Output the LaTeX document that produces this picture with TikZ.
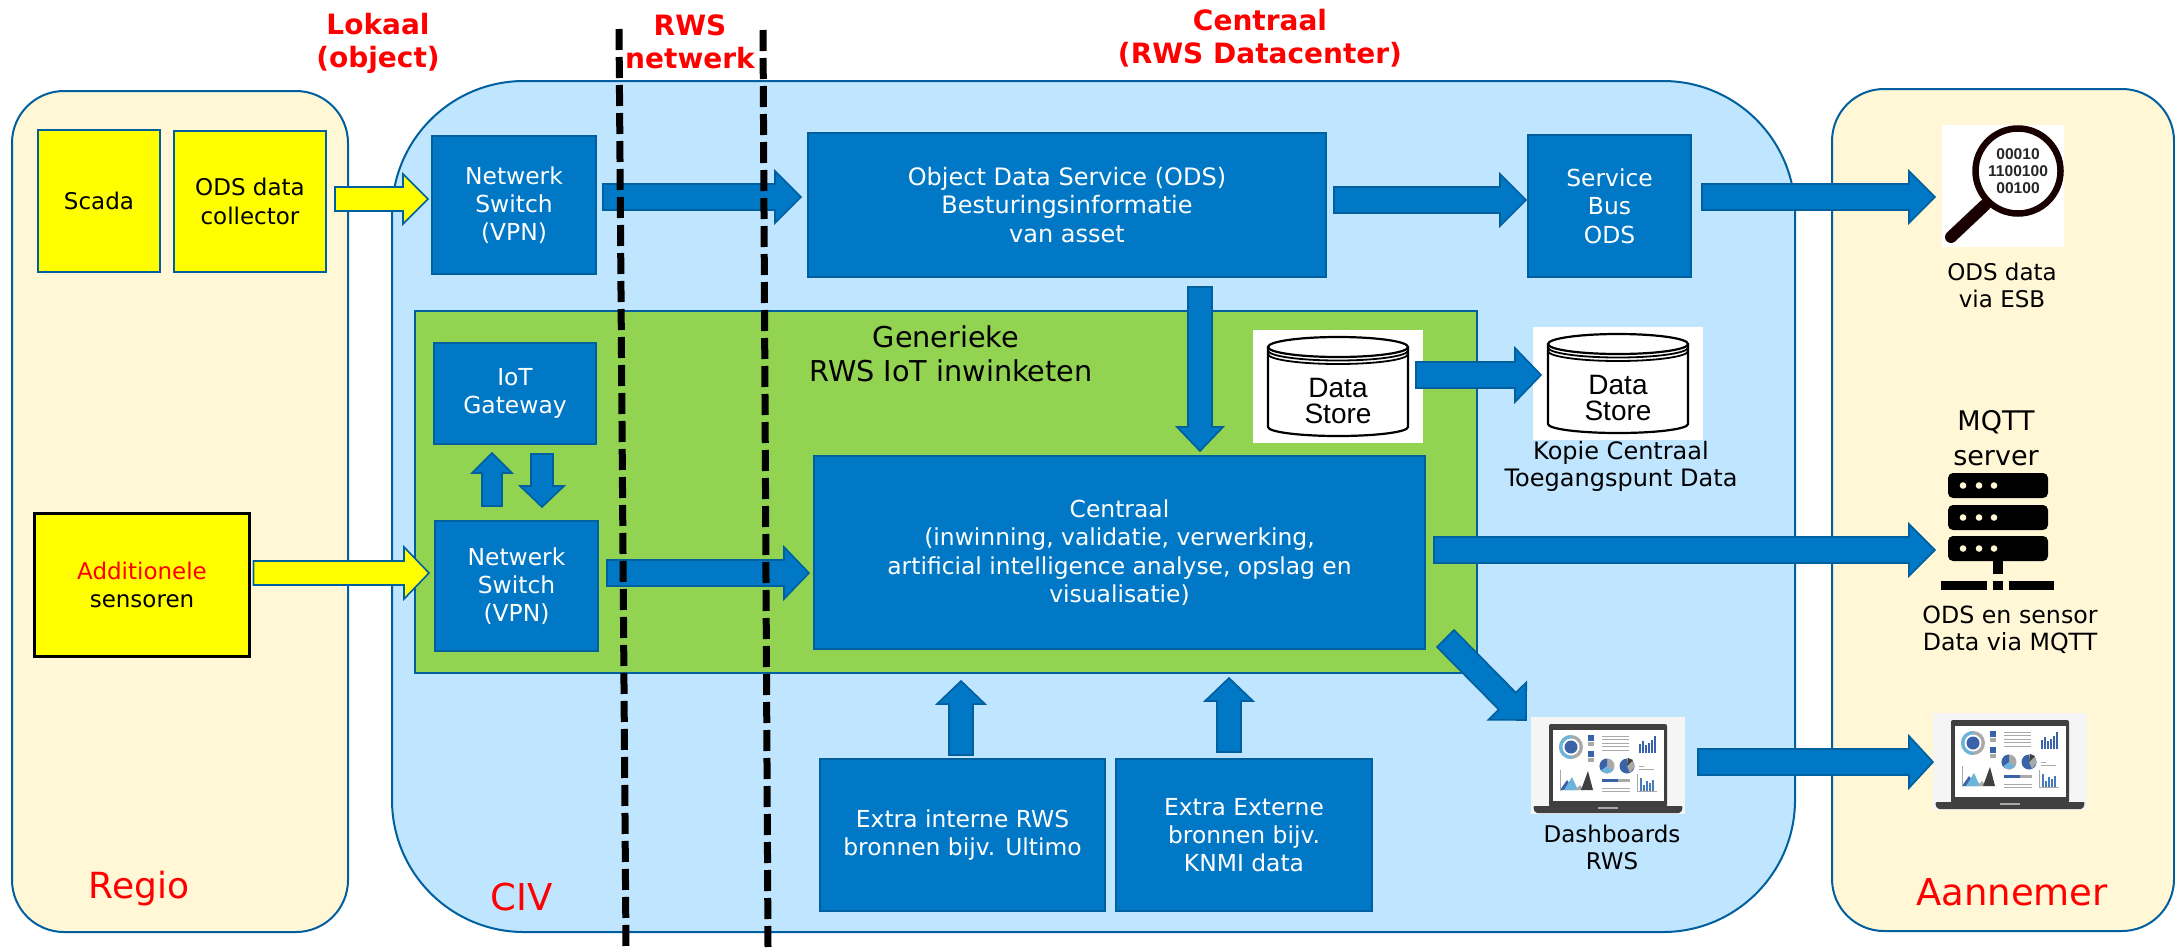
\documentclass[tikz,border=0pt]{standalone}
\usepackage{fontspec}
\setmainfont{DejaVu Sans}
\newfontfamily\arialfont{Liberation Sans}
\usetikzlibrary{calc}
\definecolor{edgeblue}{HTML}{005F9E}
\definecolor{boxblue}{HTML}{0078C6}
\definecolor{civblue}{HTML}{BFE5FF}
\definecolor{cream}{HTML}{FFF7D6}
\definecolor{leaf}{HTML}{92D351}
\definecolor{lapgrey}{HTML}{404040}
\definecolor{lapblue}{HTML}{3A62A8}
\definecolor{lapsky}{HTML}{6CB4DC}
\definecolor{lapmid}{HTML}{A9A9A9}
\definecolor{pureyellow}{RGB}{255,255,0}
\definecolor{purered}{RGB}{255,0,0}
\newcommand\fsz[1]{\fontsize{#1}{#1}\selectfont}
\newcommand\txt[2]{\fontsize{#1}{#2}\selectfont}
\tikzset{
  x=1pt,y=-1pt,
  region/.style={draw=edgeblue,line width=2pt,fill=#1,inner sep=0pt,outer sep=0pt},
  tile/.style={draw=edgeblue,line width=2pt,inner sep=0pt,outer sep=0pt,align=center},
  bluebox/.style={tile,fill=boxblue,text=white,font=\txt{23.4}{28.3},execute at begin node={\rule{0pt}{21.5pt}}},
  yellowbox/.style={tile,fill=pureyellow,text=black,font=\txt{23}{28.5}},
  bluearrow/.style={draw=edgeblue,fill=boxblue,line width=1.6pt,line join=miter},
  yellowarrow/.style={draw=edgeblue,fill=pureyellow,line width=1.6pt,line join=miter},
  caption/.style={inner sep=0pt,outer sep=0pt,align=center,text=black,font=\txt{23}{27}},
  heading/.style={inner sep=0pt,outer sep=0pt,align=center,text=purered,font=\txt{28}{33}\bfseries},
  zone/.style={inner sep=0pt,outer sep=0pt,text=purered,font=\fsz{37}},
  iconbox/.style={inner sep=0pt,outer sep=0pt,fill=#1},
  barrier/.style={draw=black,line width=7pt,dash pattern=on 21pt off 7pt},
}
% \blockarrow[style]{(tail)}{(tip)}{shaft half}{head half}{head length}
\newcommand\blockarrow[6][bluearrow]{%
  \draw[#1] let \p1=#2,\p2=#3,\n1={veclen(\x2-\x1,\y2-\y1)},
      \n2={(\x2-\x1)/\n1},\n3={(\y2-\y1)/\n1} in
    ({\x1-\n3*#4},{\y1+\n2*#4})
    -- ({\x2-\n2*#6-\n3*#4},{\y2-\n3*#6+\n2*#4})
    -- ({\x2-\n2*#6-\n3*#5},{\y2-\n3*#6+\n2*#5})
    -- (\x2,\y2)
    -- ({\x2-\n2*#6+\n3*#5},{\y2-\n3*#6-\n2*#5})
    -- ({\x2-\n2*#6+\n3*#4},{\y2-\n3*#6-\n2*#4})
    -- ({\x1+\n3*#4},{\y1-\n2*#4})
    -- cycle;}
\newcommand\storeicon[1]{%
  \begin{scope}[shift={(#1.north west)},line width=2.2pt,draw=black]
    \draw (85,17) ellipse [x radius=70,y radius=10];
    \draw[line width=1.8pt] (15,20.5) arc[start angle=180,end angle=0,x radius=70,y radius=10];
    \draw[line width=1.8pt] (15,24) arc[start angle=180,end angle=0,x radius=70,y radius=10];
    \draw (15,17) -- (15,97) arc[start angle=180,end angle=0,x radius=70,y radius=9] -- (155,17);
  \end{scope}}
\newcommand\laptopicon[1]{%
  \begin{scope}[shift={(#1.north west)}]
    \fill[lapgrey,rounded corners=2pt] (18,7) rectangle (136,90);
    \fill[white] (22,13) rectangle (133,84);
    \fill[lapgrey,rounded corners=2pt] (2,89) -- (152,89) -- (150,96) -- (4,96) -- cycle;
    \fill[lapmid] (67,90) rectangle (87,92);
    \fill[lapmid] (40,30) circle (12);
    \fill[lapsky] (40,30) -- (40,18) arc[start angle=-90,end angle=-270,x radius=12,y radius=12] -- cycle;
    \fill[white] (40,30) circle (8.5);
    \fill[lapblue] (40,30) circle (6.5);
    \fill[lapblue] (57,18) rectangle (63,24);
    \fill[lapmid] (57,25) rectangle (63,29);
    \fill[lapblue] (57,34) rectangle (63,40);
    \fill[lapmid] (57,41) rectangle (63,45);
    \foreach \ly in {19,22.5,26,29.5,33}
      \draw[lapmid,line width=1pt] (71,\ly) -- (98,\ly);
    \foreach \bx/\bh in {108/9,111/12,114/8,117/10,120/13,123/17}
      \fill[lapblue] (\bx,36) rectangle (\bx+1.8,36-\bh);
    \fill[lapmid] (76,49) circle (7.5);
    \fill[lapblue] (76,49) -- (76,41.5) arc[start angle=-90,end angle=-230,x radius=7.5,y radius=7.5] -- cycle;
    \fill[lapsky] (76,49) -- (70,53.5) -- (76,56.5) -- (82,53.5) -- cycle;
    \fill[lapblue] (96,49) circle (7.5);
    \fill[lapmid] (96,49) -- (96,41.5) -- (103,46) -- (103.5,50) -- (99,56) -- cycle;
    \fill[lapgrey] (96,49) -- (97,41) -- (102,43) -- cycle;
    \draw[lapmid,line width=1pt] (108,49) -- (113,49) (108,52.5) -- (123,52.5);
    \fill[lapblue] (29,73) -- (36,63) -- (41,70) -- (44,73) -- cycle;
    \fill[lapsky] (33,73) -- (41,60) -- (47,73) -- cycle;
    \fill[lapmid] (44,73) -- (49,68) -- (53,73) -- cycle;
    \fill[lapgrey] (50,73) -- (57,54) -- (62,73) -- cycle;
    \fill[lapmid] (71,62) rectangle (99,65);
    \fill[lapblue] (71,62) rectangle (87,65);
    \draw[lapmid,line width=1pt] (71,71) -- (99,71) (71,74) -- (99,74);
    \draw[lapmid,line width=.6pt] (106,57) -- (106,74) -- (126,74);
    \foreach \bx/\bh in {109/13,112/6,115/10,118/8,121/11}
      \fill[lapblue!70!lapsky] (\bx,73.5) rectangle (\bx+1.6,73.5-\bh);
    \draw[lapmid,line width=.6pt] (29,53) -- (29,74);
  \end{scope}}
\begin{document}
\begin{tikzpicture}
\useasboundingbox (0,0) rectangle (2175,948);
\fill[white] (0,0) rectangle (2175,948);
% regions
\node[region=cream,rounded corners=52pt,minimum width=336pt,minimum height=841pt] (regio) at (180,511.5) {};
\node[region=civblue,rounded corners=132pt,minimum width=1403pt,minimum height=851pt] (civ) at (1093.5,506.5) {};
\node[region=cream,rounded corners=52pt,minimum width=342pt,minimum height=842pt] (aann) at (2003,510) {};
\node[region=leaf,rounded corners=0pt,minimum width=1062pt,minimum height=362pt] (green) at (945.5,492) {};
% zone labels
\node[zone,font=\fsz{36}] (lregio) at (139,889) {Regio};
\node[zone] (lciv) at (522,897) {CIV};
\node[zone] (laann) at (2012,892) {Aannemer};
\node[heading] (hlok) at (378,43) {Lokaal\\(object)};
\node[heading] (hrws) at (690,42) {RWS\\netwerk};
\node[heading] (hcen) at (1260,38.5) {Centraal\\(RWS Datacenter)};
\node[inner sep=0pt,align=center,font=\txt{28.7}{34.5}] (lgreen) at (951,354) {Generieke\hspace*{10pt}\\RWS IoT inwinketen};
% yellow boxes
\node[yellowbox,minimum width=122pt,minimum height=142pt] (scada) at (99,201) {Scada};
\node[yellowbox,minimum width=152pt,minimum height=141pt] (coll) at (250,201.5) {ODS data\\collector};
\node[yellowbox,draw=black,line width=2.6pt,minimum width=215pt,minimum height=143pt,font=\txt{23}{27.5}] (addi) at (142,585) {\textcolor{purered}{Additionele}\\sensoren};
% blue boxes
\node[bluebox,minimum width=164pt,minimum height=138pt] (sw1) at (514,205) {Netwerk\\Switch\\(VPN)};
\node[bluebox,font=\txt{24}{28.3},minimum width=518pt,minimum height=144pt] (ods) at (1067,205) {Object Data Service (ODS)\\Besturingsinformatie\\van asset};
\node[bluebox,minimum width=163pt,minimum height=142pt] (bus) at (1609.5,206) {Service\\Bus\\ODS};
\node[bluebox,minimum width=162pt,minimum height=101pt] (iot) at (515,393.5) {IoT\\Gateway};
\node[bluebox,minimum width=163pt,minimum height=130pt] (sw2) at (516.5,586) {Netwerk\\Switch\\(VPN)};
\node[bluebox,minimum width=611pt,minimum height=193pt] (centr) at (1119.5,552.5) {Centraal\\(inwinning, validatie, verwerking,\\artificial intelligence analyse, opslag en\\visualisatie)};
\node[bluebox,minimum width=285pt,minimum height=152pt] (ext1) at (962.5,835) {Extra interne RWS\\bronnen bijv. Ultimo};
\node[bluebox,minimum width=256pt,minimum height=152pt] (ext2) at (1244,835) {Extra Externe\\bronnen bijv.\\KNMI data};
% data stores
\node[iconbox=white,minimum width=170pt,minimum height=113pt] (store1) at (1338,386.5) {};
\node[iconbox=white,minimum width=170pt,minimum height=113pt] (store2) at (1618,383.5) {};
\storeicon{store1}
\storeicon{store2}
\node[inner sep=0pt,align=center,font=\arialfont\txt{28}{26}] (store1t) at (1338,401) {Data\\Store};
\node[inner sep=0pt,align=center,font=\arialfont\txt{28}{26}] (store2t) at (1618,398) {Data\\Store};
\node[caption,font=\txt{24}{27}] (capstore) at (1621,466.5) {Kopie Centraal\\Toegangspunt Data};
% magnifier
\node[iconbox=white,minimum width=122pt,minimum height=122pt] (mag) at (2003,186) {};
\begin{scope}[shift={(mag.north west)}]
  \draw[black!90!purered,line width=12pt,line cap=round] (43,80) -- (9,112);
  \draw[black!90!purered,line width=6.5pt,fill=white] (76,46) circle (42.5);
\end{scope}
\node[inner sep=0pt,align=center,text=black!85,font=\arialfont\bfseries\txt{15.6}{17}] (magt) at (2018,171) {00010\\1100100\\00100};
\node[caption] (capmag) at (2002,285) {ODS data\\via ESB};
% server
\node[caption,font=\txt{27}{35}] (capmqtt) at (1996,438) {MQTT\\server};
\node[inner sep=0pt,outer sep=0pt,minimum width=113pt,minimum height=117pt] (srv) at (1997.5,531.5) {};
\begin{scope}[shift={(srv.north west)}]
  \foreach \ry in {0,32,63}{
    \fill[black,rounded corners=5pt] (7,\ry) rectangle (107,\ry+25);
    \foreach \dx in {22,38,53} \fill[cream] (\dx,\ry+12.5) circle (3.3);
  }
  \fill[black] (52,88) rectangle (62,101);
  \fill[black] (0,108) rectangle (46,117);
  \fill[black] (52,108) rectangle (62,117);
  \fill[black] (68,108) rectangle (113,117);
\end{scope}
\node[caption,font=\txt{23.7}{27}] (capsrv) at (2010,629.5) {ODS en sensor\\Data via MQTT};
% laptops
\node[iconbox={black!4},minimum width=154pt,minimum height=97pt] (lap1) at (1608,765.5) {};
\node[iconbox={black!4},minimum width=154pt,minimum height=97pt] (lap2) at (2010,761.5) {};
\laptopicon{lap1}
\laptopicon{lap2}
\node[caption] (caplap) at (1612,847.5) {Dashboards\\RWS};
% connectors
\blockarrow[yellowarrow]{($(coll.east)+(9,-2.5)$)}{($(sw1.west)+(-4,-6)$)}{12}{25}{25}
\blockarrow[yellowarrow]{($(addi.east)+(4,-12)$)}{($(sw2.west)+(-6,-13)$)}{12}{26}{25}
\blockarrow{($(sw1.east)+(7,-8)$)}{($(ods.west)+(-7,-8)$)}{13}{26}{26}
\blockarrow{($(ods.east)+(8,-5)$)}{($(bus.west)+(-2,-6)$)}{13}{26}{26}
\blockarrow{($(bus.east)+(11,-9)$)}{($(mag.west)+(-7,11)$)}{13}{26}{26}
\blockarrow{($(ods.south)+(133,10)$)}{($(centr.north)+(80.5,-5)$)}{12}{23}{24}
\blockarrow{($(sw2.north)+(-24.5,-15)$)}{($(iot.south)+(-23,9)$)}{10}{20}{20}
\blockarrow{($(iot.south)+(27,10)$)}{($(sw2.north)+(25.5,-14)$)}{11}{22}{21}
\blockarrow{($(sw2.east)+(9,-13)$)}{($(centr.west)+(-5,20.5)$)}{13}{26}{25}
\blockarrow{($(store1.east)+(-7,-11.5)$)}{($(store2.west)+(8,-8.5)$)}{13}{27}{26}
\blockarrow{($(centr.east)+(9,-2.5)$)}{($(srv.west)+(-6,18.5)$)}{13}{26}{26}
\blockarrow{($(centr.south east)+(20.5,-10.5)$)}{($(lap1.north west)+(-5,3)$)}{12}{26.5}{26.5}
\blockarrow{($(lap1.east)+(13,-3.5)$)}{($(lap2.west)+(0,.5)$)}{13}{26}{24}
\blockarrow{($(ext1.north)+(-1.5,-4)$)}{($(centr.south)+(-158.5,32)$)}{12}{24}{23}
\blockarrow{($(ext2.north)+(-15,-7)$)}{($(centr.south)+(109.5,29)$)}{12}{24}{23}
% network barriers
\coordinate (bar1a) at (619,29);
\coordinate (bar1b) at (626,948);
\coordinate (bar2a) at (763,30);
\coordinate (bar2b) at (768,948);
\draw[barrier] (bar1a) -- (bar1b);
\draw[barrier] (bar2a) -- (bar2b);
\end{tikzpicture}
\end{document}
